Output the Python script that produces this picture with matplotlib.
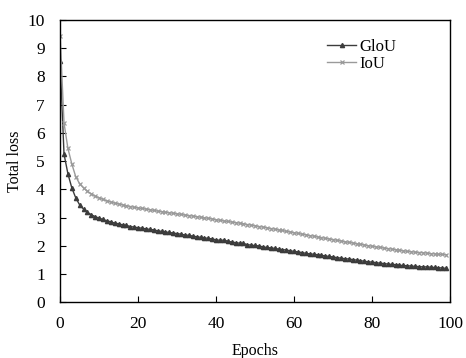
import numpy as np
import matplotlib
matplotlib.use("Agg")
import matplotlib.pyplot as plt

plt.rcParams['font.family'] = ['Liberation Serif', 'DejaVu Serif']

giou = [8.55, 5.25, 4.55, 4.05, 3.70, 3.45, 3.30, 3.18, 3.10, 3.03,
        2.98, 2.93, 2.88, 2.85, 2.80, 2.78, 2.74, 2.72, 2.68, 2.66,
        2.64, 2.62, 2.60, 2.58, 2.56, 2.53, 2.51, 2.49, 2.47, 2.45,
        2.43, 2.41, 2.38, 2.37, 2.34, 2.32, 2.30, 2.28, 2.26, 2.24,
        2.21, 2.19, 2.20, 2.16, 2.13, 2.11, 2.09, 2.08, 2.04, 2.02,
        2.01, 1.99, 1.96, 1.94, 1.92, 1.91, 1.88, 1.86, 1.85, 1.82,
        1.80, 1.78, 1.76, 1.73, 1.71, 1.70, 1.68, 1.66, 1.64, 1.62,
        1.60, 1.58, 1.56, 1.54, 1.53, 1.51, 1.49, 1.47, 1.45, 1.43,
        1.42, 1.40, 1.38, 1.37, 1.35, 1.34, 1.33, 1.31, 1.30, 1.29,
        1.28, 1.27, 1.26, 1.25, 1.25, 1.24, 1.23, 1.22, 1.21, 1.20]

iou = [9.45, 6.35, 5.45, 4.90, 4.45, 4.20, 4.05, 3.93, 3.84, 3.76,
       3.70, 3.64, 3.59, 3.55, 3.51, 3.48, 3.45, 3.42, 3.39, 3.36,
       3.34, 3.32, 3.30, 3.28, 3.25, 3.23, 3.21, 3.19, 3.17, 3.15,
       3.13, 3.11, 3.09, 3.07, 3.05, 3.03, 3.01, 2.99, 2.97, 2.95,
       2.92, 2.90, 2.88, 2.86, 2.84, 2.82, 2.80, 2.78, 2.75, 2.73,
       2.71, 2.68, 2.66, 2.64, 2.61, 2.59, 2.56, 2.54, 2.51, 2.49,
       2.46, 2.44, 2.41, 2.39, 2.36, 2.34, 2.31, 2.29, 2.26, 2.24,
       2.22, 2.19, 2.17, 2.14, 2.12, 2.10, 2.07, 2.05, 2.03, 2.00,
       1.98, 1.96, 1.94, 1.92, 1.90, 1.88, 1.86, 1.84, 1.82, 1.80,
       1.79, 1.77, 1.76, 1.75, 1.74, 1.72, 1.71, 1.70, 1.69, 1.68]

epochs = np.arange(len(giou))

fig = plt.figure(figsize=(4.66, 3.58), dpi=100)
ax = fig.add_axes([0.129, 0.156, 0.837, 0.788])

ax.plot(epochs, giou, color='#3c3c3c', marker='^', markersize=3, linewidth=1.0, label='GloU')
ax.plot(epochs, iou, color='#9a9a9a', marker='x', markersize=3.5, markeredgewidth=0.9, linewidth=1.0, label='IoU')

ax.set_xlim(0, 100)
ax.set_ylim(0, 10)
ax.set_xticks([0, 20, 40, 60, 80, 100])
ax.set_yticks(range(0, 11))
ax.tick_params(direction='in', length=4, labelsize=12.5, width=0.8)
ax.tick_params(axis='x', pad=10)
ax.tick_params(axis='y', pad=11)
ax.set_xlabel('Epochs', fontsize=11.5)
ax.set_ylabel('Total loss', fontsize=11.5)
ax.xaxis.set_label_coords(0.5, -0.145)
ax.yaxis.set_label_coords(-0.095, 0.5)
for s in ax.spines.values():
    s.set_linewidth(1.0)
ax.legend(loc='upper right', bbox_to_anchor=(0.9, 0.985), frameon=False, fontsize=12,
          handlelength=1.7, handletextpad=0.2, labelspacing=0.05)

fig.savefig('out.png', dpi=100)
